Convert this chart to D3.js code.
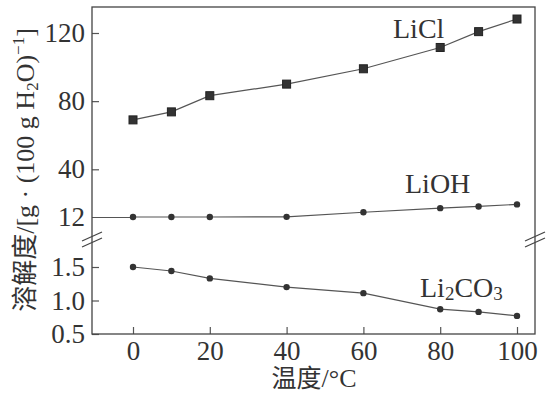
<!DOCTYPE html>
<html>
<head>
<meta charset="utf-8">
<script src="https://cdn.jsdelivr.net/npm/d3@7"></script>
<style>
body{margin:0;background:#fff}
svg{display:block}
</style>
</head>
<body>
<div id="chart"></div>
<script>
'use strict'
// solubility data
const temps=[0,10,20,40,60,80,90,100]
const licl=[69,73.7,83.2,90,99,111.5,120.8,128.2]
const lioh=[12,12,12,12.1,14.8,17.2,18.2,19.4]
const li2co3=[1.5,1.44,1.33,1.2,1.11,0.87,0.83,0.77]
const xTicks=[0,20,40,60,80,100]
const yTopTicks=[40,80,120]
const yLowTicks=[0.5,1.0,1.5]

const width=546,height=394
const boxL=92,boxR=535,boxT=7,boxB=334
const serif='"Liberation Serif","Times New Roman",serif'
const cjk='"Noto Sans CJK SC",sans-serif'
const ink='#333'
const lineCol='#555'

let svg=d3.select('#chart').append('svg').attr('width',width).attr('height',height)

let x=d3.scaleLinear().domain([0,100]).range([133,517])
let yTop=d3.scaleLinear().domain([12,120]).range([217,33])
let yLow=d3.scaleLinear().domain([0.5,1.5]).range([334,267])

function styleAxis(g){
  g.select('.domain').remove()
  g.selectAll('line').attr('stroke',lineCol).attr('stroke-width',1.2)
  g.selectAll('text').attr('fill',ink).style('font-family',serif).style('font-size','27px')
}

// axes
svg.append('g').attr('transform','translate(0,'+boxB+')')
  .call(d3.axisBottom(x).tickValues(xTicks).tickSize(-7).tickPadding(7))
  .call(styleAxis)
svg.append('g').attr('transform','translate('+boxL+',0)')
  .call(d3.axisLeft(yTop).tickValues(yTopTicks).tickSize(-7).tickPadding(7))
  .call(styleAxis)
// the 12 tick runs across to the first point
svg.append('g').attr('transform','translate('+boxL+',0)')
  .call(d3.axisLeft(yTop).tickValues([12]).tickSize(-(x(0)-boxL)).tickPadding(7))
  .call(styleAxis)
svg.append('g').attr('transform','translate('+boxL+',0)')
  .call(d3.axisLeft(yLow).tickValues(yLowTicks).tickFormat(d3.format('.1f')).tickSize(-7).tickPadding(7))
  .call(styleAxis)

svg.append('rect').attr('x',boxL).attr('y',boxT).attr('width',boxR-boxL).attr('height',boxB-boxT)
  .attr('fill','none').attr('stroke','#444').attr('stroke-width',1.3)

// axis break marks
let breakY=[236,242]
;[boxL,boxR].forEach(function(bx){
  breakY.forEach(function(by){
    svg.append('line').attr('x1',bx-10).attr('y1',by+5).attr('x2',bx+10).attr('y2',by-4)
      .attr('stroke','#444').attr('stroke-width',1.2)
  })
})

// series
function drawSeries(vals,yScale,marker){
  let pts=temps.map(function(t,i){return[t,vals[i]]})
  let line=d3.line().x(function(d){return x(d[0])}).y(function(d){return yScale(d[1])})
  svg.append('path').datum(pts).attr('d',line).attr('fill','none').attr('stroke',lineCol).attr('stroke-width',1.2)
  if(marker=='square'){
    svg.selectAll(null).data(pts).enter().append('rect')
      .attr('x',function(d){return x(d[0])-4}).attr('y',function(d){return yScale(d[1])-4})
      .attr('width',8).attr('height',8).attr('fill','#333').attr('stroke','#222')
  }else{
    svg.selectAll(null).data(pts).enter().append('circle')
      .attr('cx',function(d){return x(d[0])}).attr('cy',function(d){return yScale(d[1])})
      .attr('r',3.2).attr('fill','#333')
  }
}
drawSeries(licl,yTop,'square')
drawSeries(lioh,yTop,'circle')
drawSeries(li2co3,yLow,'circle')

// series labels
function label(tx,ty){
  return svg.append('text').attr('x',tx).attr('y',ty).attr('fill',ink)
    .style('font-family',serif).style('font-size','28px')
}
label(393,38).text('LiCl')
label(405,193).text('LiOH')
let t=label(420,297)
t.append('tspan').text('Li')
t.append('tspan').attr('dy',3).style('font-size','19px').text('2')
t.append('tspan').attr('dy',-3).text('CO')
t.append('tspan').attr('dy',3).style('font-size','19px').text('3')

// x axis title
let xt=svg.append('text').attr('x',314).attr('y',387).attr('text-anchor','middle').attr('fill',ink)
  .style('font-size','25px')
xt.append('tspan').style('font-family',cjk).text('温度')
xt.append('tspan').style('font-family',serif).style('font-size','26px').text('/°C')

// y axis title
let yt=svg.append('text').attr('transform','translate(34,170) rotate(-90)').attr('text-anchor','middle')
  .attr('fill',ink).style('font-size','26px').style('font-family',serif)
yt.append('tspan').style('font-family',cjk).text('溶解度')
yt.append('tspan').text('/[g · (100 g H')
yt.append('tspan').attr('dy',4).style('font-size','17px').text('2')
yt.append('tspan').attr('dy',-4).text('O)')
yt.append('tspan').attr('dy',-10).style('font-size','17px').text('−1')
yt.append('tspan').attr('dy',10).text(']')
</script>
</body>
</html>
